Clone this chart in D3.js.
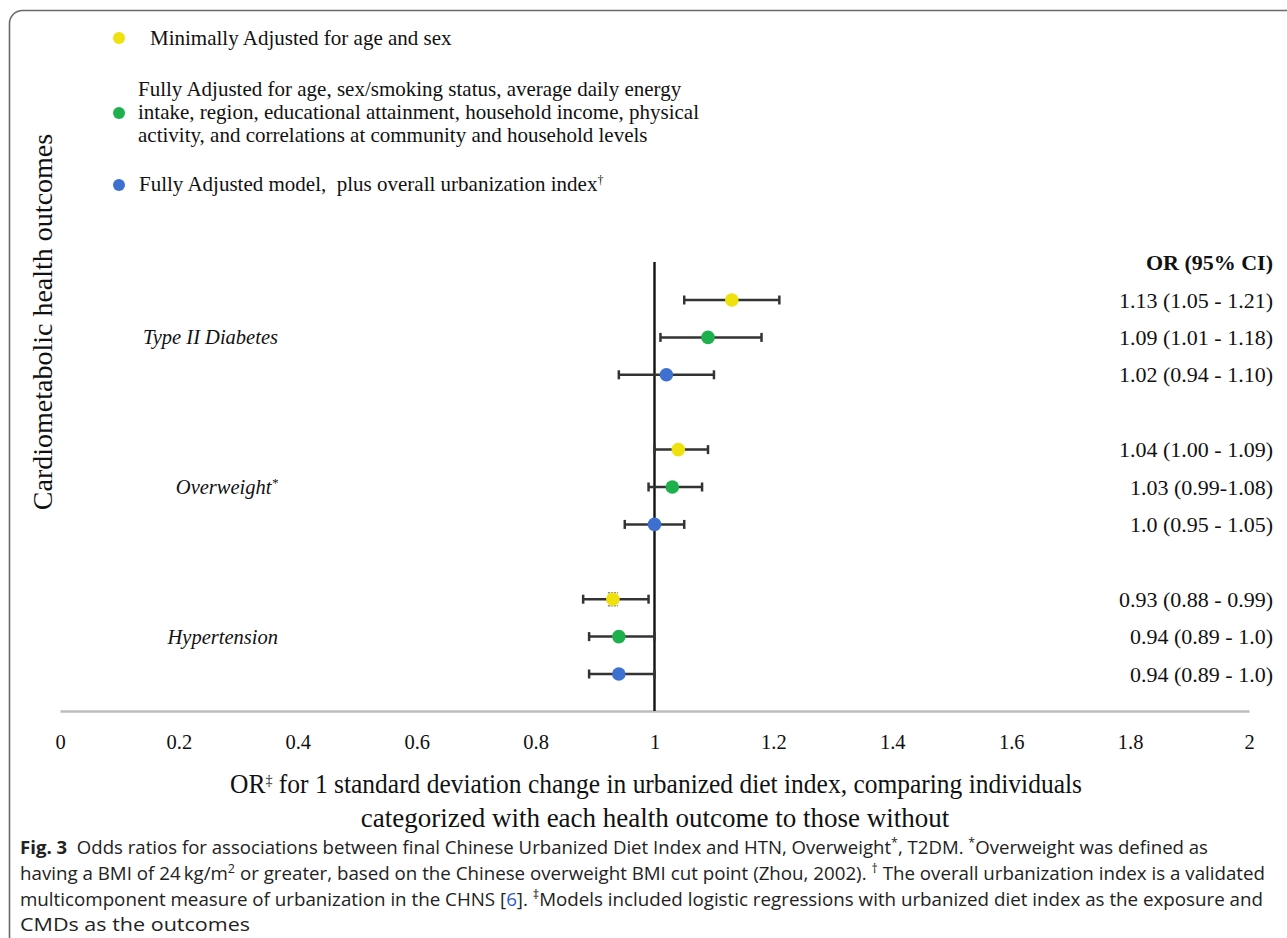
<!DOCTYPE html>
<html>
<head>
<meta charset="utf-8">
<script src="https://cdn.jsdelivr.net/npm/d3@7/dist/d3.min.js"></script>
<style>
  html, body { margin: 0; padding: 0; background: #fff; }
  svg { display: block; }
</style>
</head>
<body>
<svg id="chart" width="1287" height="938"></svg>
<script>
// ---------------- DATA ----------------
const outcomes = ["Type II Diabetes", "Overweight", "Hypertension"];
const outcomeSup = ["", "*", ""];
const models = ["Minimally", "Fully", "FullyUrban"];
const modelColors = ["#efe10c", "#1fb04e", "#3d70d0"];
// OR values [outcome][model]
const orValues = [[1.13, 1.09, 1.02], [1.04, 1.03, 1.00], [0.93, 0.94, 0.94]];
const ciLower  = [[1.05, 1.01, 0.94], [1.00, 0.99, 0.95], [0.88, 0.89, 0.89]];
const ciUpper  = [[1.21, 1.18, 1.10], [1.09, 1.08, 1.05], [0.99, 1.00, 1.00]];
const orLabels = [
  ["1.13 (1.05 - 1.21)", "1.09 (1.01 - 1.18)", "1.02 (0.94 - 1.10)"],
  ["1.04 (1.00 - 1.09)", "1.03 (0.99-1.08)", "1.0 (0.95 - 1.05)"],
  ["0.93 (0.88 - 0.99)", "0.94 (0.89 - 1.0)", "0.94 (0.89 - 1.0)"]
];
const xTicks = [0, 0.2, 0.4, 0.6, 0.8, 1, 1.2, 1.4, 1.6, 1.8, 2];
const legendItems = [
  ["Minimally Adjusted for age and sex"],
  ["Fully Adjusted for age, sex/smoking status, average daily energy",
   "intake, region, educational attainment, household income, physical",
   "activity, and correlations at community and household levels"],
  ["Fully Adjusted model,  plus overall urbanization index"]
];
const legendSup = ["", "", "\u2020"];

// ---------------- LAYOUT ----------------
const svg = d3.select("#chart");
const serif = "'Liberation Serif', 'Times New Roman', serif";

// frame (rounded, right/bottom edges off-page)
svg.append("rect")
  .attr("x", 9.5).attr("y", 10.5).attr("width", 1320).attr("height", 940)
  .attr("rx", 13).attr("ry", 13)
  .attr("fill", "none").attr("stroke", "#6a6a6a").attr("stroke-width", 1.6);

const x = d3.scaleLinear().domain([0, 2]).range([60, 1249]);
// 11 row slots: 3 per outcome + 1 spacer between outcomes
const y = d3.scaleLinear().domain([0, 10]).range([300, 674]);
const slot = (o, m) => o * 4 + m;

// rows data
const rows = [];
outcomes.forEach((o, oi) => models.forEach((m, mi) => rows.push({
  oi, mi, or: orValues[oi][mi], lo: ciLower[oi][mi], hi: ciUpper[oi][mi],
  label: orLabels[oi][mi]
})));

// x axis
const axisY = 711;
const axis = d3.axisBottom(x).tickValues(xTicks).tickSize(0).tickPadding(23)
  .tickFormat(d => String(d));
const gAxis = svg.append("g").attr("transform", `translate(0,${axisY})`).call(axis);
gAxis.select(".domain").attr("stroke", "#bdbdbd").attr("stroke-width", 2.5);
gAxis.selectAll("text").attr("font-family", serif).attr("font-size", 20.5).attr("fill", "#111");

// reference line at OR = 1
svg.append("line")
  .attr("x1", x(1)).attr("x2", x(1)).attr("y1", 262).attr("y2", axisY)
  .attr("stroke", "#111").attr("stroke-width", 2.4);

// error bars
const gBars = svg.append("g").attr("stroke", "#333").attr("stroke-width", 2.5);
rows.forEach(r => {
  const yy = y(slot(r.oi, r.mi));
  gBars.append("line").attr("x1", x(r.lo)).attr("x2", x(r.hi)).attr("y1", yy).attr("y2", yy);
  gBars.append("line").attr("x1", x(r.lo)).attr("x2", x(r.lo)).attr("y1", yy - 4.5).attr("y2", yy + 4.5);
  gBars.append("line").attr("x1", x(r.hi)).attr("x2", x(r.hi)).attr("y1", yy - 4.5).attr("y2", yy + 4.5);
});

// small marker caps on hypertension minimally-adjusted point (as in original)
{
  const r = rows.find(d => d.oi === 2 && d.mi === 0);
  const yy = y(slot(r.oi, r.mi));
  [-6.5, 6.5].forEach(dy => svg.append("line")
    .attr("x1", x(r.or) - 5).attr("x2", x(r.or) + 5).attr("y1", yy + dy).attr("y2", yy + dy)
    .attr("stroke", "#8a8a8a").attr("stroke-width", 1.5).attr("stroke-dasharray", "2,1"));
}

// points
svg.append("g").selectAll("circle").data(rows).join("circle")
  .attr("cx", d => x(d.or)).attr("cy", d => y(slot(d.oi, d.mi)))
  .attr("r", 6.8).attr("fill", d => modelColors[d.mi]);

// outcome labels (italic)
outcomes.forEach((o, oi) => {
  const t = svg.append("text")
    .attr("x", 278).attr("y", y(slot(oi, 1)) + 7)
    .attr("text-anchor", "end")
    .attr("font-family", serif).attr("font-style", "italic").attr("font-size", 20.5)
    .attr("fill", "#111");
  t.append("tspan").text(o);
  if (outcomeSup[oi]) t.append("tspan").attr("baseline-shift", "super").attr("font-size", 13).text(outcomeSup[oi]);
});

// right-hand OR labels
svg.append("text").attr("x", 1273).attr("y", 270).attr("text-anchor", "end")
  .attr("font-family", serif).attr("font-weight", "bold").attr("font-size", 22)
  .attr("fill", "#111").text("OR (95% CI)");
svg.append("g").selectAll("text").data(rows).join("text")
  .attr("x", 1273).attr("y", d => y(slot(d.oi, d.mi)) + 7.5)
  .attr("text-anchor", "end").attr("font-family", serif).attr("font-size", 22)
  .attr("fill", "#111").text(d => d.label);

// y axis title
svg.append("text")
  .attr("transform", "translate(52,322) rotate(-90)")
  .attr("text-anchor", "middle").attr("font-family", serif).attr("font-size", 28)
  .attr("fill", "#111").text("Cardiometabolic health outcomes");

// x axis title
const xt = svg.append("text").attr("x", 656).attr("y", 793).attr("text-anchor", "middle")
  .attr("font-family", serif).attr("font-size", 27).attr("fill", "#111")
  .attr("textLength", 852).attr("lengthAdjust", "spacingAndGlyphs");
xt.append("tspan").text("OR");
xt.append("tspan").attr("baseline-shift", "super").attr("font-size", 15).text("\u2021");
xt.append("tspan").text(" for 1 standard deviation change in urbanized diet index, comparing individuals");
svg.append("text").attr("x", 655).attr("y", 827).attr("text-anchor", "middle")
  .attr("font-family", serif).attr("font-size", 27).attr("fill", "#111")
  .text("categorized with each health outcome to those without");

// legend
const legendY = [[38], [89, 112, 135], [184]];
const legendX = [150, 138, 139];
const legendDotY = [38, 113, 185];
legendItems.forEach((lines, i) => {
  svg.append("circle").attr("cx", 119).attr("cy", legendDotY[i]).attr("r", 6)
    .attr("fill", modelColors[i]);
  lines.forEach((ln, j) => {
    const t = svg.append("text").attr("x", legendX[i]).attr("y", legendY[i][j] + 7)
      .attr("font-family", serif).attr("font-size", 21).attr("fill", "#111")
      .style("white-space", "pre");
    t.append("tspan").text(ln);
    if (legendSup[i] && j === lines.length - 1)
      t.append("tspan").attr("baseline-shift", "super").attr("font-size", 12).text(legendSup[i]);
  });
});

// caption
const sans = "'Open Sans', 'Noto Sans', sans-serif";
const capX = 20;
function capLine(yb, len) {
  return svg.append("text").attr("x", capX).attr("y", yb)
    .attr("font-family", sans).attr("font-size", 18).attr("fill", "#222")
    .attr("textLength", len).attr("lengthAdjust", "spacingAndGlyphs")
    .style("white-space", "pre");
}
// superscript raised by dy; following run lowered back
const sup = (t, s) => t.append("tspan").attr("dy", -7).attr("font-size", 12).text(s);
const run = (t, s, back) => t.append("tspan").attr("dy", back ? 7 : null).text(s);

let c1 = capLine(854, 1188);
c1.append("tspan").attr("font-weight", "bold").text("Fig. 3");
run(c1, "  Odds ratios for associations between final Chinese Urbanized Diet Index and HTN, Overweight");
sup(c1, "*");
run(c1, ", T2DM. ", true);
sup(c1, "*");
run(c1, "Overweight was defined as", true);

let c2 = capLine(880, 1245);
run(c2, "having a BMI of 24\u2009kg/m");
sup(c2, "2");
run(c2, " or greater, based on the Chinese overweight BMI cut point (Zhou, 2002). ", true);
sup(c2, "\u2020");
run(c2, " The overall urbanization index is a validated", true);

let c3 = capLine(906, 1243);
run(c3, "multicomponent measure of urbanization in the CHNS [");
c3.append("tspan").attr("fill", "#2a5cc8").text("6");
run(c3, "]. ");
sup(c3, "\u2021");
run(c3, "Models included logistic regressions with urbanized diet index as the exposure and", true);

capLine(931, 230).text("CMDs as the outcomes");
</script>
</body>
</html>
